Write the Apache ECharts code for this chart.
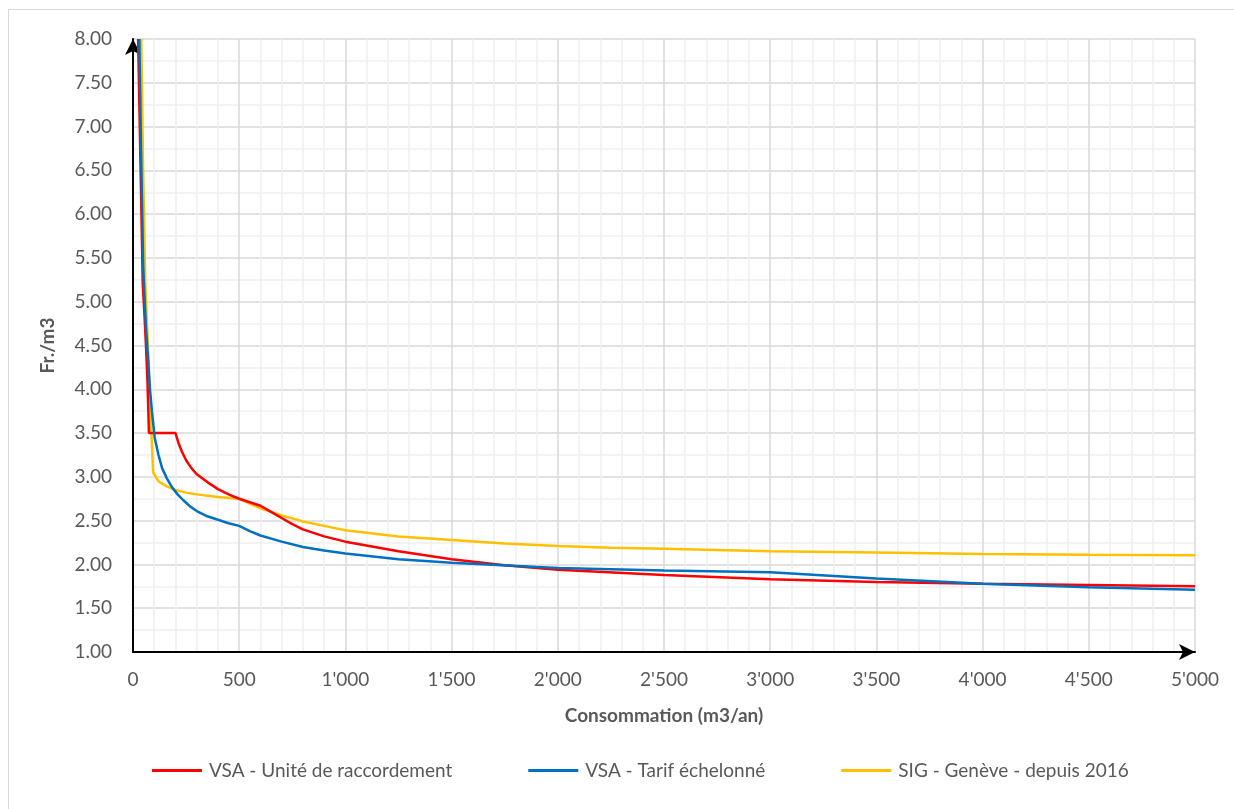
<!DOCTYPE html>
<html>
<head>
<meta charset="utf-8">
<script src="https://cdn.jsdelivr.net/npm/echarts@6/dist/echarts.min.js"></script>
<style>
html,body{margin:0;padding:0;background:#fff;}
#chart{width:1234px;height:809px;}
</style>
</head>
<body>
<div id="chart"></div>
<script>
// Consommation (m3/an) and Fr./m3 values
const seriesNames = ['VSA - Unité de raccordement', 'VSA - Tarif échelonné', 'SIG - Genève - depuis 2016'];

const redX = [24, 35, 46, 55, 62, 68, 75, 200, 215, 230, 250, 275, 300, 350, 400, 450, 500, 600, 650, 700, 750, 800, 900, 1000, 1250, 1500, 1750, 2000, 2500, 3000, 3500, 4000, 4500, 5000];
const redY = [8.0, 6.6, 5.2, 4.8, 4.45, 4.1, 3.5, 3.5, 3.38, 3.29, 3.19, 3.10, 3.03, 2.94, 2.86, 2.80, 2.75, 2.67, 2.60, 2.53, 2.46, 2.40, 2.32, 2.26, 2.15, 2.06, 1.99, 1.94, 1.88, 1.83, 1.80, 1.78, 1.765, 1.75];

const blueX = [30, 38, 48, 60, 71, 80, 89, 102, 120, 137, 160, 184, 210, 238, 270, 300, 350, 400, 450, 500, 550, 600, 700, 800, 900, 1000, 1250, 1500, 2000, 2500, 3000, 3500, 4000, 4500, 5000];
const blueY = [8.0, 6.7, 5.4, 4.75, 4.35, 4.0, 3.75, 3.45, 3.25, 3.1, 2.98, 2.88, 2.8, 2.73, 2.66, 2.61, 2.55, 2.51, 2.47, 2.44, 2.38, 2.33, 2.26, 2.20, 2.16, 2.125, 2.06, 2.02, 1.96, 1.93, 1.91, 1.84, 1.78, 1.74, 1.71];

const yellowX = [39, 47, 58, 77, 85, 95, 120, 152, 200, 250, 300, 400, 500, 600, 700, 800, 900, 1000, 1250, 1500, 1750, 2000, 2250, 2500, 3000, 3500, 4000, 4500, 5000];
const yellowY = [8.0, 6.6, 5.2, 4.1, 3.6, 3.05, 2.95, 2.9, 2.85, 2.82, 2.8, 2.77, 2.75, 2.64, 2.56, 2.49, 2.44, 2.39, 2.32, 2.28, 2.24, 2.21, 2.19, 2.18, 2.15, 2.135, 2.12, 2.11, 2.105];

const colors = ['#ff0000', '#0070c0', '#ffc000'];

function zip(xs, ys) { return xs.map((x, i) => [x, ys[i]]); }
function fmtThousands(v) {
  return String(Math.round(v)).replace(/\B(?=(\d{3})+(?!\d))/g, "'");
}

const chart = echarts.init(document.getElementById('chart'), null, {renderer: 'canvas'});
const font = 'Lato, "Open Sans", sans-serif';
const fs = 19;

chart.setOption({
  animation: false,
  backgroundColor: '#ffffff',
  textStyle: {fontFamily: font},
  graphic: [{
    type: 'rect',
    shape: {x: 8.5, y: 9.5, width: 1240, height: 820},
    style: {fill: 'none', stroke: '#d9d9d9', lineWidth: 1},
    silent: true
  }],
  grid: {left: 133, top: 39, right: 39, bottom: 157, containLabel: false},
  legend: {
    bottom: 24,
    left: 147,
    itemWidth: 50,
    itemHeight: 3,
    itemGap: 76,
    icon: 'rect',
    textStyle: {color: '#595959', fontSize: fs, fontFamily: font, padding: [0, 0, 0, 2]},
    data: seriesNames
  },
  xAxis: {
    type: 'value',
    min: 0,
    max: 5000,
    interval: 500,
    name: 'Consommation (m3/an)',
    nameLocation: 'middle',
    nameGap: 54,
    nameTextStyle: {color: '#595959', fontSize: fs, fontWeight: 'bold', fontFamily: font},
    axisLine: {show: true, onZero: false, lineStyle: {color: '#000', width: 2}, symbol: ['none', 'arrow'], symbolSize: [12, 16]},
    axisTick: {show: false},
    axisLabel: {color: '#595959', fontSize: fs, margin: 18, formatter: fmtThousands, fontFamily: font},
    splitLine: {show: true, lineStyle: {color: '#d9d9d9', width: 1.5}},
    minorTick: {show: false, splitNumber: 5},
    minorSplitLine: {show: true, lineStyle: {color: '#f0f0f0', width: 1.5}}
  },
  yAxis: {
    type: 'value',
    min: 1,
    max: 8,
    interval: 0.5,
    name: 'Fr./m3',
    nameLocation: 'middle',
    nameGap: 76,
    nameRotate: 90,
    nameTextStyle: {color: '#595959', fontSize: fs, fontWeight: 'bold', fontFamily: font},
    axisLine: {show: true, onZero: false, lineStyle: {color: '#000', width: 2}, symbol: ['none', 'arrow'], symbolSize: [12, 16]},
    axisTick: {show: false},
    axisLabel: {color: '#595959', fontSize: fs, margin: 21, formatter: v => v.toFixed(2), fontFamily: font},
    splitLine: {show: true, lineStyle: {color: '#d9d9d9', width: 1.5}},
    minorTick: {show: false, splitNumber: 2},
    minorSplitLine: {show: true, lineStyle: {color: '#f0f0f0', width: 1.5}}
  },
  series: [
    {name: seriesNames[0], type: 'line', data: zip(redX, redY), symbol: 'none', smooth: false, clip: true,
     lineStyle: {color: colors[0], width: 2.5}, itemStyle: {color: colors[0]}, z: 3},
    {name: seriesNames[1], type: 'line', data: zip(blueX, blueY), symbol: 'none', smooth: false, clip: true,
     lineStyle: {color: colors[1], width: 2.5}, itemStyle: {color: colors[1]}, z: 4},
    {name: seriesNames[2], type: 'line', data: zip(yellowX, yellowY), symbol: 'none', smooth: false, clip: true,
     lineStyle: {color: colors[2], width: 2.5}, itemStyle: {color: colors[2]}, z: 2}
  ]
});
</script>
</body>
</html>
